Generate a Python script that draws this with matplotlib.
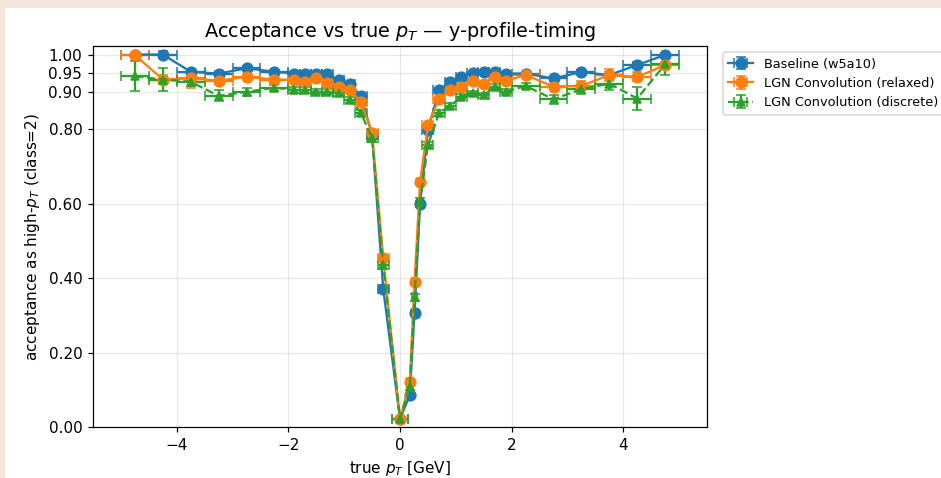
import matplotlib
matplotlib.use("Agg")
import matplotlib.pyplot as plt
from matplotlib.patches import Rectangle
import numpy as np

# bin centres and half-widths (GeV)
pt_centers = [-4.75, -4.25, -3.75, -3.25, -2.75, -2.25, -1.9, -1.7, -1.5, -1.3, -1.1,
              -0.9, -0.7, -0.5, -0.3, 0.0, 0.175, 0.26, 0.36, 0.5, 0.7, 0.9, 1.1, 1.3,
              1.5, 1.7, 1.9, 2.25, 2.75, 3.25, 3.75, 4.25, 4.75]
pt_halfwidth = [0.25, 0.25, 0.25, 0.25, 0.25, 0.25, 0.1, 0.1, 0.1, 0.1, 0.1,
                0.1, 0.1, 0.1, 0.1, 0.15, 0.05, 0.05, 0.05, 0.1, 0.1, 0.1, 0.1, 0.1,
                0.1, 0.1, 0.1, 0.25, 0.25, 0.25, 0.25, 0.25, 0.25]

baseline = [1.000, 1.000, 0.954, 0.949, 0.963, 0.954, 0.949, 0.947, 0.947, 0.947, 0.932,
            0.922, 0.889, 0.785, 0.370, 0.022, 0.085, 0.305, 0.600, 0.797, 0.905, 0.927,
            0.939, 0.951, 0.954, 0.954, 0.949, 0.949, 0.936, 0.953, 0.945, 0.972, 0.999]
baseline_err = [0.005, 0.010, 0.008, 0.006, 0.005, 0.005, 0.005, 0.005, 0.005, 0.005, 0.005,
                0.005, 0.006, 0.008, 0.010, 0.005, 0.006, 0.008, 0.008, 0.006, 0.005, 0.005,
                0.005, 0.005, 0.005, 0.005, 0.005, 0.005, 0.006, 0.006, 0.008, 0.008, 0.005]

relaxed = [0.999, 0.933, 0.936, 0.930, 0.940, 0.933, 0.932, 0.927, 0.936, 0.924, 0.914,
           0.905, 0.873, 0.790, 0.453, 0.022, 0.122, 0.390, 0.659, 0.810, 0.882, 0.906,
           0.914, 0.930, 0.922, 0.940, 0.930, 0.945, 0.914, 0.916, 0.945, 0.940, 0.972]
relaxed_err = [0.005, 0.012, 0.025, 0.008, 0.006, 0.005, 0.005, 0.005, 0.005, 0.005, 0.005,
               0.005, 0.006, 0.008, 0.010, 0.005, 0.006, 0.008, 0.008, 0.006, 0.005, 0.005,
               0.005, 0.005, 0.005, 0.005, 0.005, 0.005, 0.006, 0.012, 0.015, 0.012, 0.008]

discrete = [0.942, 0.933, 0.927, 0.889, 0.900, 0.911, 0.905, 0.905, 0.900, 0.900, 0.896,
            0.878, 0.844, 0.775, 0.435, 0.022, 0.108, 0.348, 0.605, 0.757, 0.843, 0.862,
            0.887, 0.896, 0.891, 0.914, 0.900, 0.916, 0.880, 0.907, 0.922, 0.882, 0.974]
discrete_err = [0.040, 0.030, 0.012, 0.015, 0.010, 0.008, 0.007, 0.007, 0.007, 0.007, 0.007,
                0.007, 0.008, 0.010, 0.012, 0.006, 0.008, 0.010, 0.010, 0.008, 0.007, 0.007,
                0.007, 0.007, 0.007, 0.007, 0.007, 0.008, 0.012, 0.014, 0.016, 0.032, 0.028]

yticks = [0.00, 0.20, 0.40, 0.60, 0.80, 0.90, 0.95, 1.00]

DPI = 110
fig = plt.figure(figsize=(941 / DPI, 478 / DPI), dpi=DPI)
fig.patch.set_facecolor("#f3e7dd")
fig.patches.append(Rectangle((5 / 941, 0), 1, 470 / 478, transform=fig.transFigure,
                             facecolor="white", edgecolor="none", zorder=-10))
ax = fig.add_axes([93 / 941, 51 / 478, (707 - 93) / 941, (427 - 46) / 478])

ax.errorbar(pt_centers, baseline, xerr=pt_halfwidth, yerr=baseline_err, fmt="o-",
            color="#1f77b4", markersize=7, capsize=3, linewidth=1.5,
            label="Baseline (w5a10)")
ax.errorbar(pt_centers, relaxed, xerr=pt_halfwidth, yerr=relaxed_err, fmt="o-",
            color="#ff7f0e", markersize=7, capsize=3, linewidth=1.5,
            label="LGN Convolution (relaxed)")
ax.errorbar(pt_centers, discrete, xerr=pt_halfwidth, yerr=discrete_err, fmt="^--",
            color="#2ca02c", markersize=5, capsize=3, linewidth=1.5,
            label="LGN Convolution (discrete)")

ax.set_ylim(0, 1.023)
ax.set_yticks(yticks)
ax.set_yticklabels([f"{v:.2f}" for v in yticks])
ax.grid(True, alpha=0.3)
ax.set_title(r"Acceptance vs true $p_T$ — y-profile-timing", fontsize=12.6)
ax.set_xlabel(r"true $p_T$ [GeV]")
ax.set_ylabel(r"acceptance as high-$p_T$ (class=2)")
ax.legend(loc="upper left", bbox_to_anchor=(1.015, 1.0), fontsize=8.4)

fig.savefig("out.png", dpi=DPI, facecolor=fig.get_facecolor())
